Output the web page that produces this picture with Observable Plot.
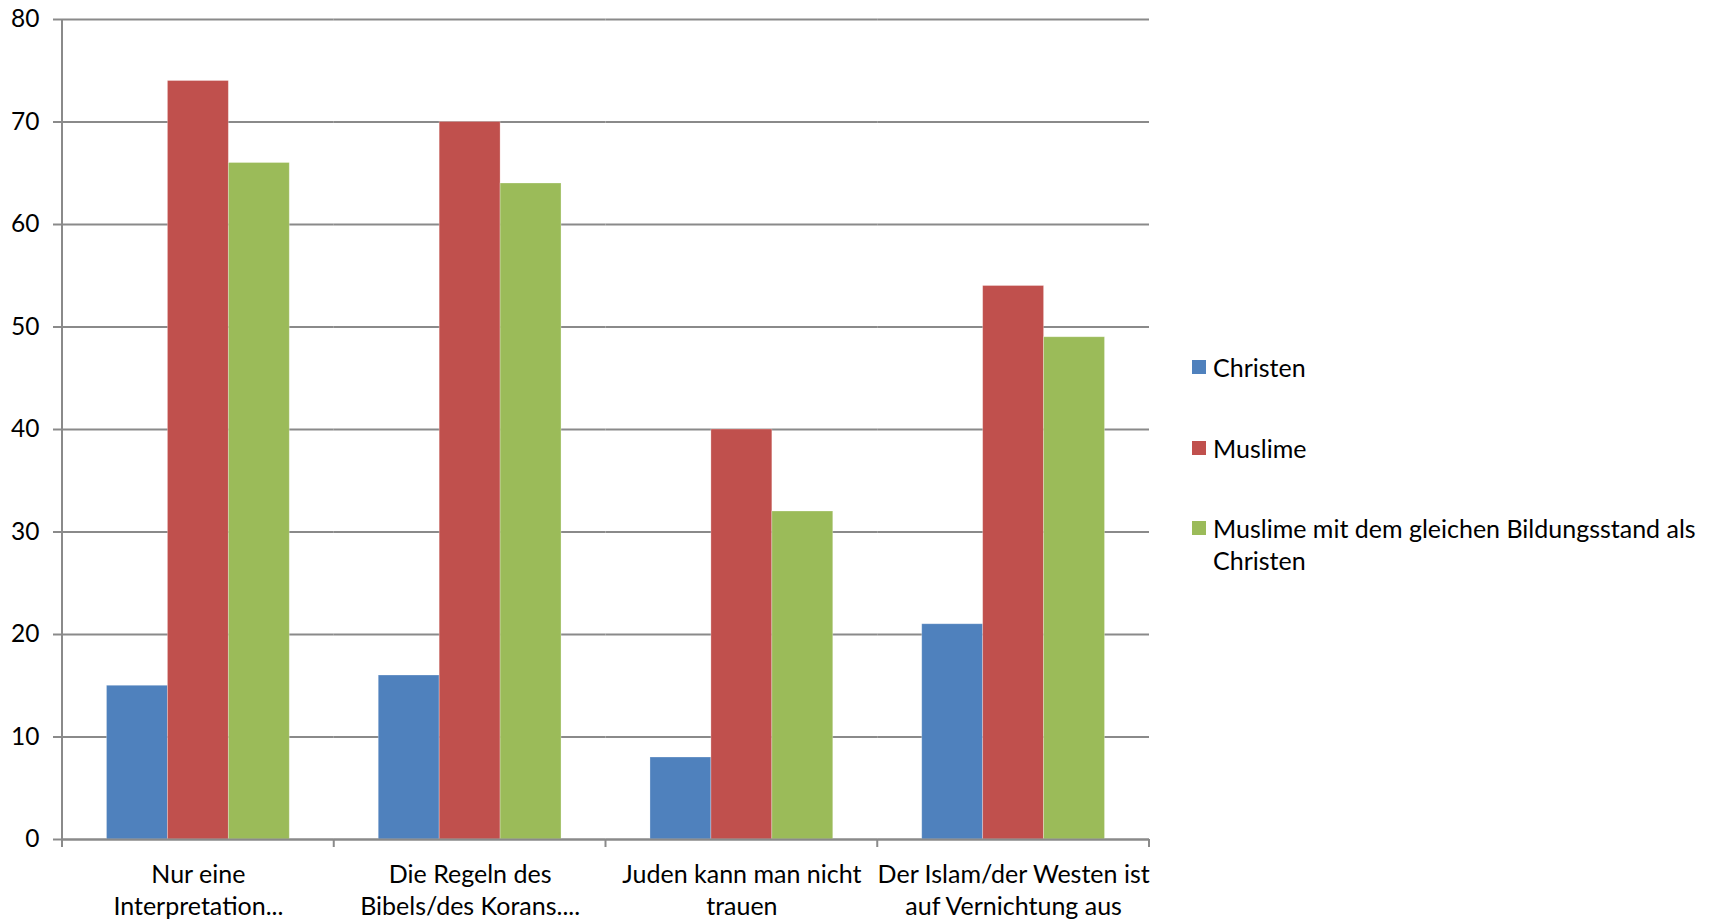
<!DOCTYPE html>
<html><head><meta charset="utf-8">
<script src="https://cdn.jsdelivr.net/npm/d3@7"></script>
<script src="https://cdn.jsdelivr.net/npm/@observablehq/plot@0.6"></script>
<style>
body{margin:0;background:#fff;font-family:Lato,"Noto Sans",sans-serif;}
#wrap{position:relative;width:1713px;height:920px;}
#legend .item{position:absolute;left:1192px;width:521px;font-size:25px;line-height:32px;color:#000;}
#legend .sw{position:absolute;left:0;top:9px;width:14px;height:14px;}
#legend .lb{position:absolute;left:21px;width:500px;}
</style></head>
<body><div id="wrap"><div id="chart"></div><div id="legend"></div></div>
<script>
const categories = ["Nur eine Interpretation...", "Die Regeln des Bibels/des Korans....", "Juden kann man nicht trauen", "Der Islam/der Westen ist auf Vernichtung aus"];
const categoryLabels = ["Nur eine\nInterpretation...", "Die Regeln des\nBibels/des Korans....", "Juden kann man nicht\ntrauen", "Der Islam/der Westen ist\nauf Vernichtung aus"];
const series = ["Christen", "Muslime", "Muslime mit dem gleichen Bildungsstand als Christen"];
const christen = [15, 16, 8, 21];
const muslime = [74, 70, 40, 54];
const muslimeBildung = [66, 64, 32, 49];
const colors = ["#4F81BD", "#C0504D", "#9BBB59"];
const yTicks = [0, 10, 20, 30, 40, 50, 60, 70, 80];

const seriesValues = [christen, muslime, muslimeBildung];
const rows = [];
categories.forEach((c, i) => series.forEach((s, j) => rows.push({cat: c, series: s, value: seriesValues[j][i]})));
const labelOf = new Map(categories.map((c, i) => [c, categoryLabels[i]]));

const gray = "#8a8a8a";
const chart = Plot.plot({
  width: 1713, height: 920,
  marginLeft: 62, marginRight: 564, marginTop: 19, marginBottom: 81,
  style: {fontFamily: "Lato, 'Noto Sans', sans-serif", fontSize: "24px", color: "#000", background: "transparent"},
  fx: {domain: categories, padding: 0, label: null, axis: null, round: false},
  x: {domain: series, paddingInner: 0, paddingOuter: 0.73, axis: null, round: false},
  y: {domain: [0, 80], label: null, axis: null},
  color: {domain: series, range: colors},
  marks: [
    Plot.gridY(yTicks, {stroke: gray, strokeOpacity: 1, strokeWidth: 2}),
    Plot.barY(rows, {fx: "cat", x: "series", y: "value", fill: "series", stroke: "#fff", strokeOpacity: 0.35, strokeWidth: 0.8}),
    Plot.ruleY([0], {stroke: gray, strokeWidth: 2}),
    Plot.axisY(yTicks, {tickSize: 9, tickPadding: 14, stroke: gray, strokeWidth: 2, fontSize: 24.5, fill: "#000", label: null}),
    Plot.axisFx({anchor: "bottom", tickSize: 0, tickPadding: 20, fontSize: 25, fill: "#000", lineHeight: 1.3, tickFormat: d => labelOf.get(d), label: null})
  ]
});
document.getElementById("chart").appendChild(chart);

// y-axis line and category boundary ticks from scales
const fx = chart.scale("fx");
const y = chart.scale("y");
const svg = d3.select(chart);
const [r0, r1] = fx.range;
const step = (r1 - r0) / categories.length;
const y0 = y.apply(0), y80 = y.apply(80);
const g = svg.append("g").attr("stroke", gray).attr("stroke-width", 2);
g.append("line").attr("x1", r0).attr("x2", r0).attr("y1", y80).attr("y2", y0 + 8);
d3.range(1, categories.length + 1).forEach(i => {
  const xx = r0 + i * step;
  g.append("line").attr("x1", xx).attr("x2", xx).attr("y1", y0).attr("y2", y0 + 8);
});

// legend
const legend = d3.select("#legend");
series.forEach((s, i) => {
  const it = legend.append("div").attr("class", "item").style("top", (351 + i * 80.5) + "px");
  it.append("div").attr("class", "sw").style("background", colors[i]);
  it.append("div").attr("class", "lb").text(s);
});
</script>
</body></html>
